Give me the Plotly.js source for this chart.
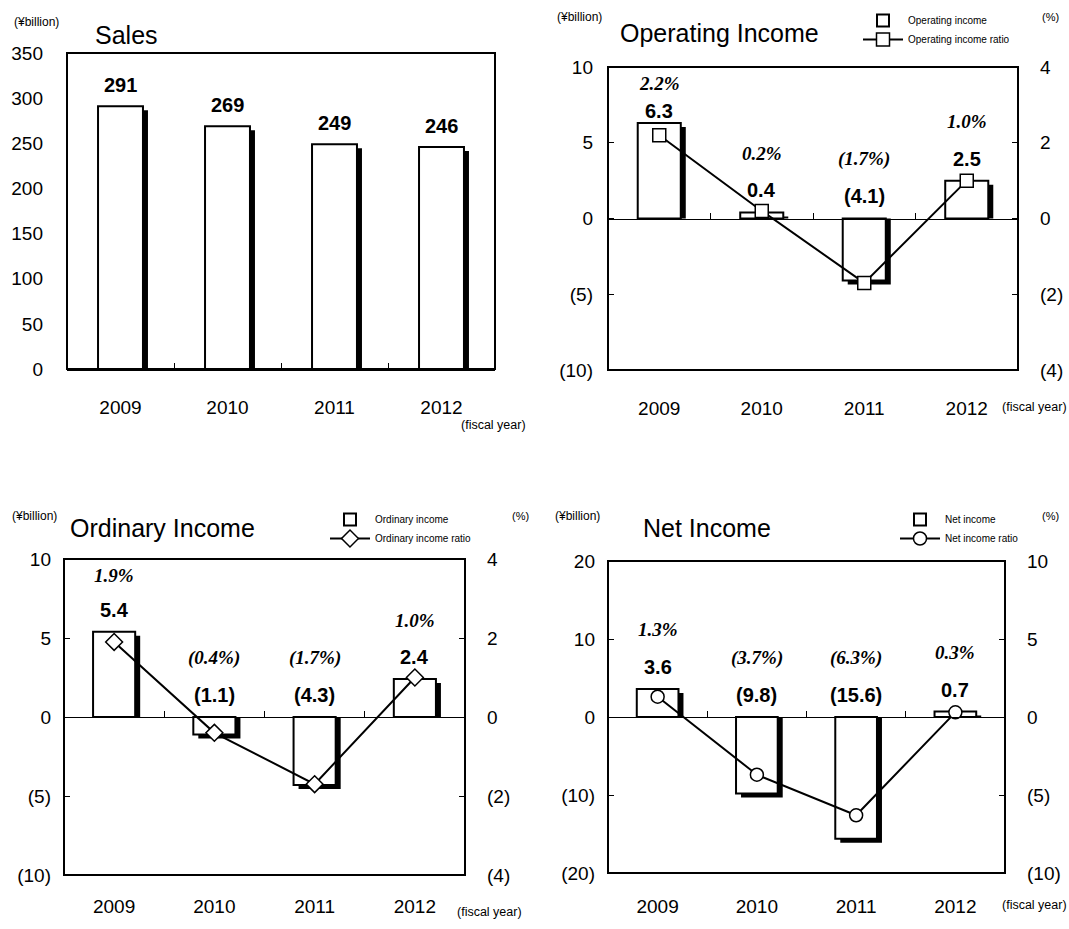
<!DOCTYPE html>
<html><head><meta charset="utf-8">
<script src="https://cdn.plot.ly/plotly-3.0.1.min.js"></script>
<style>html,body{margin:0;padding:0;background:#fff}#chart{width:1069px;height:929px}</style>
</head><body><div id="chart"></div>
<script>
// ---------- data ----------
const years = ['2009', '2010', '2011', '2012'];
const sales = [291, 269, 249, 246];
const opIncome = [6.3, 0.4, -4.1, 2.5];
const opRatio = [2.2, 0.2, -1.7, 1.0];
const ordIncome = [5.4, -1.1, -4.3, 2.4];
const ordRatio = [1.9, -0.4, -1.7, 1.0];
const netIncome = [3.6, -9.8, -15.6, 0.7];
const netRatio = [1.3, -3.7, -6.3, 0.3];
const salesTicks = [0, 50, 100, 150, 200, 250, 300, 350];
const incomeTicks = [-10, -5, 0, 5, 10];
const incomeRatioTicks = [-4, -2, 0, 2, 4];
const netTicks = [-20, -10, 0, 10, 20];
const netRatioTicks = [-10, -5, 0, 5, 10];

// ---------- helpers ----------
const W = 1069, H = 929;
const NARROW = '"Liberation Sans Narrow", "Liberation Sans", Arial, sans-serif';
const SANS = '"Liberation Sans", Arial, sans-serif';
const SERIF = '"Liberation Serif", "Times New Roman", serif';
const fmt = (v, dec) => v < 0 ? '(' + Math.abs(v).toFixed(dec) + ')' : v.toFixed(dec);
const pct = (v) => v < 0 ? '(' + Math.abs(v).toFixed(1) + '%)' : v.toFixed(1) + '%';
const fx = px => px / W;
const fy = py => 1 - py / H;

const panels = [
  {title: 'Sales', values: sales, dec: 0, ticks: salesTicks, ratio: null,
   box: [67, 495, 53, 369], yTicks: '', titleXY: [93, 35], unitXY: [12, 22],
   fiscalXY: [459, 425], labelY: 405, leftStandoff: 23},
  {title: 'Operating Income', values: opIncome, dec: 1, ticks: incomeTicks,
   ratio: opRatio, ratioTicks: incomeRatioTicks, barName: 'Operating income',
   lineName: 'Operating income ratio', symbol: 'square', legend: 'legend',
   legendXY: [858, 6], box: [608, 1018, 67, 370], yTicks: 'inside',
   titleXY: [618, 33], unitXY: [555, 17], pctXY: [1040, 17],
   fiscalXY: [1000, 407], labelY: 407, leftStandoff: 14},
  {title: 'Ordinary Income', values: ordIncome, dec: 1, ticks: incomeTicks,
   ratio: ordRatio, ratioTicks: incomeRatioTicks, barName: 'Ordinary income',
   lineName: 'Ordinary income ratio', symbol: 'diamond', legend: 'legend2',
   legendXY: [325, 505], box: [64, 465, 559, 875], yTicks: 'inside',
   titleXY: [68, 528], unitXY: [10, 516], pctXY: [510, 516],
   fiscalXY: [455, 912], labelY: 905, leftStandoff: 12},
  {title: 'Net Income', values: netIncome, dec: 1, ticks: netTicks,
   ratio: netRatio, ratioTicks: netRatioTicks, barName: 'Net income',
   lineName: 'Net income ratio', symbol: 'circle', legend: 'legend3',
   legendXY: [895, 505], box: [608, 1005, 561, 873], yTicks: 'inside',
   titleXY: [641, 528], unitXY: [553, 516], pctXY: [1040, 516],
   fiscalXY: [1000, 905], labelY: 905, leftStandoff: 12}
];

const traces = [];
const layout = {
  width: W, height: H, margin: {l: 0, r: 0, t: 0, b: 0},
  paper_bgcolor: '#fff', plot_bgcolor: 'rgba(0,0,0,0)',
  barmode: 'overlay', showlegend: true, hovermode: false,
  font: {family: NARROW, color: '#000'},
  annotations: [], shapes: []
};

const BARW = 0.42;
const TICKFONT = {family: NARROW, size: 19, color: '#000'};
const NUM_GAP = 22;   // px between bar top (or zero line) and value label centre
const PCT_GAP = 37;   // px between value label and ratio label centres
const TOP_PAD = 16;   // minimum px between frame top and ratio label centre
const PCT_MIN_GAP = 28;

panels.forEach((p, k) => {
  const n = k + 1;
  const xa = k === 0 ? 'x' : 'x' + n;
  const ya = k === 0 ? 'y' : 'y' + n;
  const ya2 = 'y' + (n + 4);
  const [l, r, t, b] = p.box;
  const ymin = p.ticks[0], ymax = p.ticks[p.ticks.length - 1];
  const pxPerUnit = (b - t) / (ymax - ymin);
  const catPx = (r - l) / years.length;
  const zeroFrac = (0 - ymin) / (ymax - ymin);
  const zeroPx = b - zeroFrac * (b - t);
  const dShift = 4 / pxPerUnit;       // 4px drop of the shadow, in data units
  const sShift = 5 / catPx;           // 5px right shift of the shadow

  layout['xaxis' + (k === 0 ? '' : n)] = {
    domain: [fx(l), fx(r)], type: 'category', range: [-0.5, 3.5],
    anchor: k === 0 ? 'y' : 'free', position: fy(zeroPx),
    showline: true, linecolor: '#000', linewidth: k === 0 ? 2 : 1,
    ticks: 'inside', ticklen: 6, tickwidth: 1, tickcolor: '#000',
    tickson: 'boundaries', showgrid: false, zeroline: false,
    tickfont: TICKFONT,
    ticklabelstandoff: Math.round(p.labelY - zeroPx - 16)
  };
  layout['yaxis' + (k === 0 ? '' : n)] = {
    domain: [fy(b), fy(t)], range: [ymin, ymax], anchor: xa,
    tickvals: p.ticks, ticktext: p.ticks.map(v => fmt(v, 0)),
    ticks: p.yTicks, ticklen: 6, tickwidth: 1, tickcolor: '#000',
    showgrid: false, zeroline: false, showline: false,
    tickfont: TICKFONT, ticklabelstandoff: p.leftStandoff
  };

  // frame
  layout.shapes.push({type: 'rect', xref: xa + ' domain', yref: ya + ' domain',
    x0: 0, x1: 1, y0: 0, y1: 1, line: {color: '#000', width: 2}, layer: 'above'});

  // shadow bars
  traces.push({type: 'bar', x: years, y: p.values.map(v => v - dShift),
    xaxis: xa, yaxis: ya, width: BARW, offset: -BARW / 2 + sShift,
    marker: {color: '#000', line: {width: 0}}, showlegend: false, hoverinfo: 'skip'});
  // main bars
  traces.push({type: 'bar', x: years, y: p.values, name: p.barName || p.title,
    xaxis: xa, yaxis: ya, width: BARW, offset: -BARW / 2,
    marker: {color: '#fff', line: {color: '#000', width: 2}},
    showlegend: !!p.ratio, legend: p.legend || 'legend', hoverinfo: 'skip'});

  // label placement (pixel shifts relative to the bar top / zero line)
  const shifts = p.values.map(v => {
    const anchorPx = zeroPx - Math.max(v, 0) * pxPerUnit;
    let numPx = anchorPx - (k === 0 ? 21 : NUM_GAP);
    let pctPx = numPx - PCT_GAP;
    if (p.ratio && pctPx < t + TOP_PAD) {
      pctPx = t + TOP_PAD;
      numPx = Math.max(numPx, pctPx + PCT_MIN_GAP);
    }
    return {num: anchorPx - numPx, pct: anchorPx - pctPx};
  });

  if (p.ratio) {
    const rmin = p.ratioTicks[0], rmax = p.ratioTicks[p.ratioTicks.length - 1];
    layout['yaxis' + (n + 4)] = {
      domain: [fy(b), fy(t)], range: [rmin, rmax], anchor: xa, overlaying: ya, side: 'right',
      tickvals: p.ratioTicks, ticktext: p.ratioTicks.map(v => fmt(v, 0)),
      ticks: 'inside', ticklen: 6, tickwidth: 1, tickcolor: '#000',
      showgrid: false, zeroline: false, showline: false,
      tickfont: TICKFONT, ticklabelstandoff: 21
    };
    traces.push({type: 'scatter', mode: 'lines+markers', x: years, y: p.ratio,
      name: p.lineName, xaxis: xa, yaxis: ya2, legend: p.legend,
      line: {color: '#000', width: 2},
      marker: {symbol: p.symbol, size: 13, color: '#fff', line: {color: '#000', width: 1.5}},
      hoverinfo: 'skip'});
    layout[p.legend] = {
      x: fx(p.legendXY[0]), y: fy(p.legendXY[1]), xanchor: 'left', yanchor: 'top',
      bgcolor: 'rgba(0,0,0,0)', borderwidth: 0, itemwidth: 40, tracegroupgap: 0,
      font: {family: NARROW, size: 10, color: '#000'}, traceorder: 'normal'
    };
    layout.annotations.push({xref: 'paper', yref: 'paper', x: fx(p.pctXY[0]), y: fy(p.pctXY[1]),
      xanchor: 'left', yanchor: 'middle', text: '(%)', showarrow: false,
      font: {family: NARROW, size: 11, color: '#000'}});
    // ratio labels (x given as category index on the category axis)
    p.ratio.forEach((rv, j) => {
      layout.annotations.push({xref: xa, yref: ya, x: j, y: Math.max(p.values[j], 0),
        yanchor: 'middle', yshift: shifts[j].pct, text: '<b><i>' + pct(rv) + '</i></b>',
        showarrow: false, font: {family: SERIF, size: 19, color: '#000'}});
    });
  }

  // value labels
  p.values.forEach((v, j) => {
    layout.annotations.push({xref: xa, yref: ya, x: j, y: Math.max(v, 0),
      yanchor: 'middle', yshift: shifts[j].num, text: '<b>' + fmt(v, p.dec) + '</b>',
      showarrow: false, font: {family: SANS, size: 20, color: '#000'}});
  });

  // titles and unit labels
  layout.annotations.push({xref: 'paper', yref: 'paper', x: fx(p.titleXY[0]), y: fy(p.titleXY[1]),
    xanchor: 'left', yanchor: 'middle', text: p.title, showarrow: false,
    font: {family: NARROW, size: 25, color: '#000'}});
  layout.annotations.push({xref: 'paper', yref: 'paper', x: fx(p.unitXY[0]), y: fy(p.unitXY[1]),
    xanchor: 'left', yanchor: 'middle', text: '(¥billion)', showarrow: false,
    font: {family: NARROW, size: 12, color: '#000'}});
  layout.annotations.push({xref: 'paper', yref: 'paper', x: fx(p.fiscalXY[0]), y: fy(p.fiscalXY[1]),
    xanchor: 'left', yanchor: 'middle', text: '(fiscal year)', showarrow: false,
    font: {family: NARROW, size: 12.5, color: '#000'}});
});

Plotly.newPlot('chart', traces, layout, {staticPlot: true, displayModeBar: false});
</script>
</body></html>
